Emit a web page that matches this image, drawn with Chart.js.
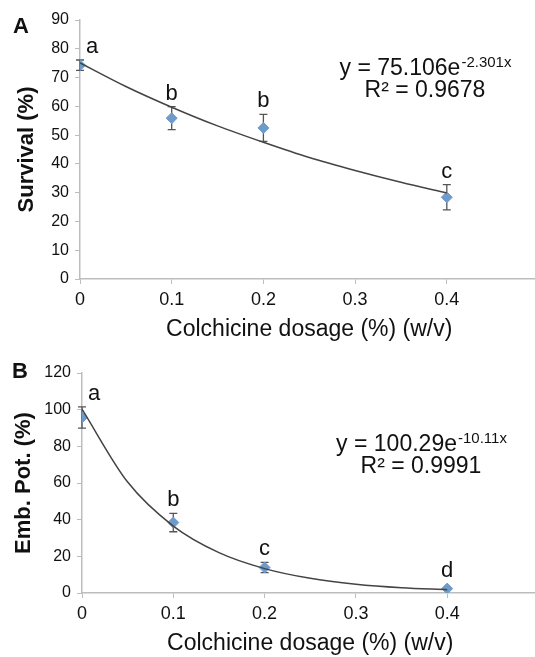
<!DOCTYPE html>
<html>
<head>
<meta charset="utf-8">
<script src="https://cdn.jsdelivr.net/npm/chart.js@4.4.0/dist/chart.umd.min.js"></script>
<style>
  body { margin: 0; background: #fff; overflow: hidden; }
  canvas { position: absolute; left: 0; }
  #chartA { top: 0; }
  #chartB { top: 345px; }
</style>
</head>
<body>
<canvas id="chartA" width="545" height="345"></canvas>
<canvas id="chartB" width="545" height="312"></canvas>
<script>
// data
const dosage = [0, 0.1, 0.2, 0.4];

const survivalMean = [74.3, 55.9, 52.5, 28.4];
const survivalErr = [1.8, 4.0, 4.7, 4.4];
const survivalLetters = ["a", "b", "b", "c"];

const embMean = [95.7, 38.4, 13.9, 2.4];
const embErr = [5.8, 5.0, 2.8, 0];
const embLetters = ["a", "b", "c", "d"];

// fitted trend lines
const trendX = [0, 0.05, 0.1, 0.15, 0.2, 0.25, 0.3, 0.35, 0.4];
const survivalTrend = [75.1, 66.9, 59.7, 53.2, 47.5, 42.2, 37.7, 33.6, 29.9];
const embTrend = [100.3, 60.5, 36.5, 22.0, 13.3, 8.0, 4.8, 2.9, 1.8];

const eqA = { base: "y = 75.106e", exp: "-2.301x", r2: "R² = 0.9678" };
const eqB = { base: "y = 100.29e", exp: "-10.11x", r2: "R² = 0.9991" };

const FONT = "'Liberation Sans', Arial, sans-serif";
Chart.defaults.font.family = FONT;
Chart.defaults.color = "#111";

const markerColor = "#6f9bcb";
const axisColor = "#bdbdbd";

const extrasPlugin = {
  id: "extras",
  beforeDatasetsDraw(chart, args, opts) {
    const { ctx, scales } = chart;
    const x = scales.x, y = scales.y;
    ctx.save();
    ctx.strokeStyle = "#555";
    ctx.lineWidth = 1.3;
    opts.mean.forEach((m, i) => {
      const e = opts.err[i];
      if (!e) return;
      const px = x.getPixelForValue(opts.xs[i]);
      const top = y.getPixelForValue(m + e);
      const bot = y.getPixelForValue(m - e);
      ctx.beginPath();
      ctx.moveTo(px, top); ctx.lineTo(px, bot);
      ctx.moveTo(px - 4, top); ctx.lineTo(px + 4, top);
      ctx.moveTo(px - 4, bot); ctx.lineTo(px + 4, bot);
      ctx.stroke();
    });
    ctx.restore();
  },
  afterDraw(chart, args, opts) {
    const { ctx, scales } = chart;
    const x = scales.x, y = scales.y;
    ctx.save();
    ctx.fillStyle = "#111";
    // significance letters
    ctx.font = "22px " + FONT;
    ctx.textAlign = "center";
    ctx.textBaseline = "alphabetic";
    opts.mean.forEach((m, i) => {
      let px = x.getPixelForValue(opts.xs[i]);
      if (opts.xs[i] === 0) px += 12;
      const top = Math.min(y.getPixelForValue(m + opts.err[i]), y.getPixelForValue(m) - 5);
      ctx.fillText(opts.letters[i], px, top - 7);
    });
    // equation
    const eq = opts.eq;
    ctx.font = "23px " + FONT;
    const w1 = ctx.measureText(eq.base).width;
    ctx.font = "15px " + FONT;
    const w2 = ctx.measureText(eq.exp).width;
    const start = opts.eqX - (w1 + w2) / 2;
    ctx.textAlign = "left";
    ctx.font = "23px " + FONT;
    ctx.fillText(eq.base, start, opts.eqY);
    ctx.font = "15px " + FONT;
    ctx.fillText(eq.exp, start + w1 + 1, opts.eqY - 8);
    ctx.font = "23px " + FONT;
    ctx.textAlign = "center";
    ctx.fillText(eq.r2, opts.eqX, opts.eqY + 22);
    // panel letter
    ctx.font = "bold 22px " + FONT;
    ctx.textAlign = "left";
    ctx.fillText(opts.panel, opts.panelX, 33);
    ctx.restore();
  }
};

function makeChart(canvasId, cfg) {
  return new Chart(document.getElementById(canvasId), {
    type: "line",
    data: {
      datasets: [
        {
          data: cfg.trend.map((v, i) => ({ x: trendX[i], y: v })),
          borderColor: "#444",
          borderWidth: 1.5,
          pointRadius: 0,
          cubicInterpolationMode: "monotone",
          fill: false,
        },
        {
          data: cfg.mean.map((v, i) => ({ x: dosage[i], y: v })),
          showLine: false,
          pointStyle: "rectRot",
          pointRadius: 5.5,
          pointBackgroundColor: markerColor,
          pointBorderColor: markerColor,
        },
      ],
    },
    options: {
      responsive: false,
      animation: false,
      layout: { padding: { top: cfg.padTop, left: 0, right: 0, bottom: 0 } },
      plugins: {
        legend: { display: false },
        tooltip: { enabled: false },
        extras: {
          xs: dosage,
          mean: cfg.mean,
          err: cfg.err,
          letters: cfg.letters,
          eq: cfg.eq,
          eqX: cfg.eqX,
          eqY: cfg.eqY,
          panel: cfg.panel,
          panelX: cfg.panelX,
        },
      },
      scales: {
        x: {
          type: "linear",
          min: 0,
          max: 0.5,
          afterFit: (s) => { s.height = cfg.xHeight; },
          ticks: {
            stepSize: 0.1,
            padding: 5,
            color: "#111",
            font: { size: 18 },
            maxRotation: 0,
            callback: (v) => (v >= 0.45 ? "" : Math.round(v * 10) / 10),
          },
          grid: { drawOnChartArea: false, drawTicks: true, tickLength: 5, color: axisColor },
          border: { color: axisColor, width: 1.5 },
          title: {
            display: true,
            text: "Colchicine dosage (%) (w/v)",
            font: { size: 23 },
            color: "#111",
            padding: { top: 0, bottom: cfg.xTitlePad },
          },
        },
        y: {
          min: 0,
          max: cfg.yMax,
          afterFit: (s) => { s.width = cfg.yWidth; },
          ticks: { stepSize: cfg.yStep, padding: 6, color: "#111", font: { size: 16 } },
          grid: { drawOnChartArea: false, drawTicks: true, tickLength: 5, color: axisColor },
          border: { color: axisColor, width: 1.5 },
          title: {
            display: true,
            text: cfg.yTitle,
            font: { size: 22, weight: "bold" },
            color: "#111",
            padding: { top: cfg.yTitlePad, bottom: 0 },
          },
        },
      },
    },
    plugins: [extrasPlugin],
  });
}

makeChart("chartA", {
  mean: survivalMean, err: survivalErr, letters: survivalLetters, trend: survivalTrend,
  eq: eqA, eqX: 425, eqY: 75, panel: "A", panelX: 13,
  yMax: 90, yStep: 10, yTitle: "Survival (%)", yTitlePad: 14, yWidth: 80,
  padTop: 20, xHeight: 66, xTitlePad: 2,
});

makeChart("chartB", {
  mean: embMean, err: embErr, letters: embLetters, trend: embTrend,
  eq: eqB, eqX: 421, eqY: 106, panel: "B", panelX: 12,
  yMax: 120, yStep: 20, yTitle: "Emb. Pot. (%)", yTitlePad: 11, yWidth: 82,
  padTop: 28, xHeight: 64, xTitlePad: 0,
});
</script>
</body>
</html>
